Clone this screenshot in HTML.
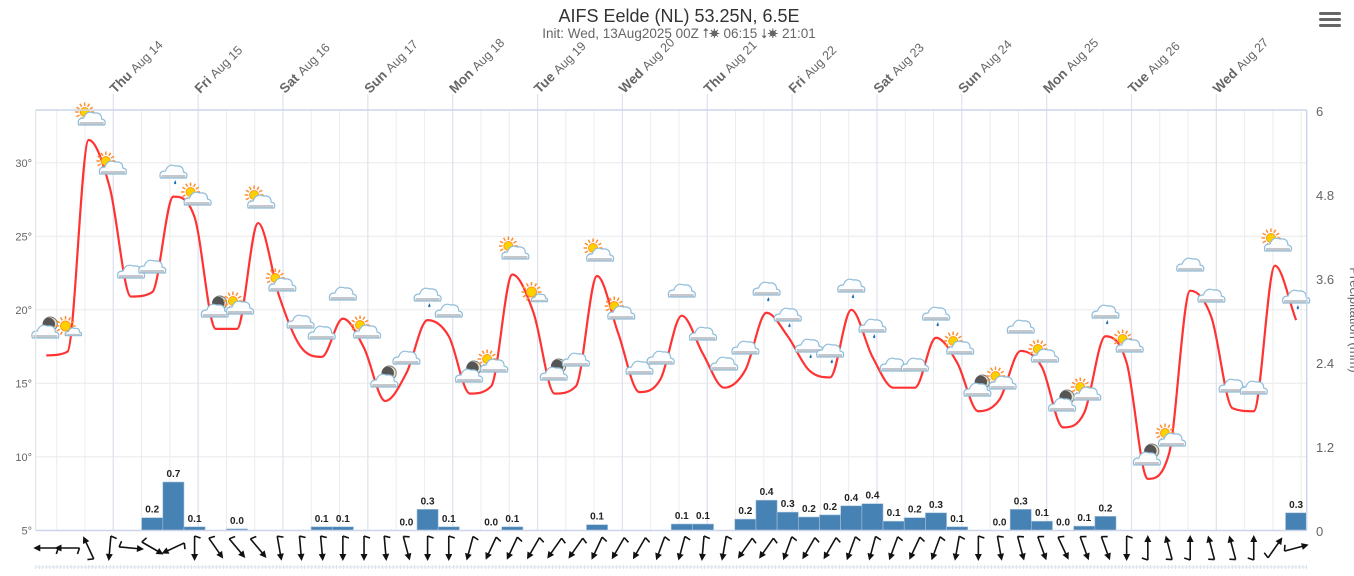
<!DOCTYPE html>
<html><head><meta charset="utf-8">
<style>
html,body{margin:0;padding:0;background:#fff;}
body{width:1354px;height:571px;overflow:hidden;font-family:"Liberation Sans",sans-serif;}
</style></head>
<body>
<svg id="chart" width="1354" height="571" xmlns="http://www.w3.org/2000/svg" font-family="Liberation Sans, sans-serif">
<text x="679" y="22" text-anchor="middle" font-size="18" fill="#333">AIFS Eelde (NL) 53.25N, 6.5E</text>
<text x="679" y="38" text-anchor="middle" font-size="13.5" fill="#666">Init: Wed, 13Aug2025 00Z ⭡☀ 06:15 ⭣☀ 21:01</text>
<g>
<rect x="1319" y="12" width="22" height="3" rx="1.5" fill="#666"/><rect x="1319" y="18" width="22" height="3" rx="1.5" fill="#666"/><rect x="1319" y="24" width="22" height="3" rx="1.5" fill="#666"/>
</g>
<g id="grid"></g><g id="bars"></g><g id="line"></g><g id="icons"></g><g id="wind"></g><g id="axes"></g>
</svg>
<script>
const temps=[16.9,17.15,31.55,28.3,20.9,21.2,27.7,26.3,18.7,18.7,25.9,20.9,17.5,16.8,19.4,17.4,13.8,15.7,19.3,18.2,14.3,14.8,22.4,19.8,14.3,14.8,22.3,18.4,14.4,15.3,19.6,17.0,14.7,15.9,19.8,18.2,15.9,15.4,20.0,16.8,14.7,14.7,18.1,16.4,13.1,13.9,17.2,16.1,12.0,13.0,18.2,16.4,8.5,10.2,21.3,19.5,13.3,13.1,23.0,19.3];
const precip=[null,null,null,null,null,0.19,0.7,0.06,null,0.03,null,null,null,0.06,0.06,null,null,0.01,0.31,0.06,null,0.01,0.06,null,null,null,0.09,null,null,null,0.1,0.1,null,0.17,0.44,0.27,0.2,0.23,0.36,0.39,0.14,0.19,0.26,0.06,null,0.01,0.31,0.14,0.01,0.07,0.21,null,null,null,null,null,null,null,null,0.26];
const icons=["mc","s","sc","sc","c","c","r","sc","mc","sc","sc","sc","c","c","c","sc","mc","c","r","c","mc","sc","sc","s","mc","c","sc","sc","c","c","c","c","c","c","r","r","r","r","r","r","c","c","r","sc","mc","sc","c","sc","mc","sc","r","sc","mc","sc","c","c","c","c","sc","r"];
const windTo=[270,270,335,185,95,120,245,180,145,140,140,170,175,175,180,180,175,165,180,180,195,205,205,210,215,215,205,210,210,200,195,185,190,215,215,200,210,210,200,195,200,205,200,190,180,170,165,160,155,160,160,180,0,345,0,345,345,0,35,75];
const tempTicks=[5,10,15,20,25,30];
const precipTicks=[0,1.2,2.4,3.6,4.8,6];
const dayNames=["Thu","Fri","Sat","Sun","Mon","Tue","Wed","Thu","Fri","Sat","Sun","Mon","Tue","Wed"];
const dayDates=["Aug 14","Aug 15","Aug 16","Aug 17","Aug 18","Aug 19","Aug 20","Aug 21","Aug 22","Aug 23","Aug 24","Aug 25","Aug 26","Aug 27"];
// layout (not data)
const iconY=[330,328,117,166,272,267,174,197,309,306,200,283,322,333,294,330,379,358,297,311,374,364,251,294,372,360,253,311,368,358,291,334,364,348,291,317,348,353,288,328,365,365,316,346,388,381,327,354,403,392,314,344,457,438,265,296,386,388,243,299];

const NS="http://www.w3.org/2000/svg";
const L=35.7,R=1306.7,T=110,B=530.5,STEP=(R-L)/60;
const xi=i=>L+STEP*(i+0.5);
const yT=t=>530.3-(t-5)*14.7;
const yP=p=>531-p*70;
const dayX=k=>113.3+k*84.85;
function el(tag,attrs,parent){const e=document.createElementNS(NS,tag);for(const k in attrs)e.setAttribute(k,attrs[k]);parent.appendChild(e);return e;}
const grid=document.getElementById('grid');
for(let x=113.3-2*28.283;x<R;x+=28.283){const g=el('line',{x1:x,x2:x,y1:T,y2:B,stroke:'#ececec','stroke-width':1},grid);

}
for(const t of tempTicks){if(t===5)continue;const g=el('line',{x1:L,x2:R,y1:yT(t),y2:yT(t),stroke:'#ececec','stroke-width':1.2},grid);

}
const axes=document.getElementById('axes');
for(let k=0;k<dayNames.length;k++){const x=dayX(k);
const dl=el('line',{x1:x,x2:x,y1:94,y2:B,stroke:'#dde2ee','stroke-width':1.2},grid);


const tx=el('text',{transform:`translate(${x+2},${94}) rotate(-45)`,'font-size':13.5,fill:'#666'},axes);


const b=el('tspan',{'font-weight':'bold'},tx);b.textContent=dayNames[k];
const n=el('tspan',{dx:4,'font-size':12.5},tx);n.textContent=dayDates[k];}
el('line',{x1:L,x2:R,y1:T,y2:T,stroke:'#ccd6eb','stroke-width':1.5},axes);
el('line',{x1:L,x2:L,y1:T,y2:B,stroke:'#e0e0e0','stroke-width':1},axes);
el('line',{x1:R,x2:R,y1:T,y2:B,stroke:'#ccd6eb','stroke-width':1.5},axes);
el('line',{x1:L,x2:R,y1:B,y2:B,stroke:'#ccd6eb','stroke-width':1.5},axes);
for(const t of tempTicks){const tx=el('text',{x:32,y:yT(t)+4,'text-anchor':'end','font-size':11,fill:'#666'},axes);tx.textContent=t+'°';

}
for(const p of precipTicks){const tx=el('text',{x:1316,y:yP(p)+5,'font-size':13,fill:'#666'},axes);tx.textContent=String(p);

}
const at=el('text',{transform:'translate(1350,320) rotate(90)','text-anchor':'middle','font-size':13,fill:'#666'},axes);at.textContent='Precipitation (mm)';


for(let x=L;x<R;x+=3.54){el('line',{x1:x,x2:x,y1:565,y2:569,stroke:'#cfd6e6','stroke-width':0.8},axes);}
el('line',{x1:L,x2:R,y1:567,y2:567,stroke:'#dfe4ef','stroke-width':1},axes);
// bars
const bars=document.getElementById('bars');
precip.forEach((p,i)=>{if(p==null)return;const x0=L+STEP*i;const y=yP(p);
const r=el('rect',{x:x0,y:y,width:STEP,height:B-y,fill:'#4682b4',stroke:'#a8c4de','stroke-width':0.6},bars);


const t=el('text',{x:x0+STEP/2,y:y-5,'text-anchor':'middle','font-size':10,'font-weight':'bold',fill:'#222'},bars);t.textContent=p.toFixed(1);

});
// monotone cubic spline
const pts=temps.map((t,i)=>[xi(i),yT(t)]);
const n=pts.length,h=STEP;
const dl=[];for(let i=0;i<n-1;i++)dl.push((pts[i+1][1]-pts[i][1])/h);
const m=new Array(n);m[0]=dl[0];m[n-1]=dl[n-2];
for(let i=1;i<n-1;i++){if(dl[i-1]*dl[i]<=0)m[i]=0;else m[i]=(dl[i-1]+dl[i])/2;}
for(let i=0;i<n-1;i++){if(dl[i]===0){m[i]=0;m[i+1]=0;continue;}const a=m[i]/dl[i],b=m[i+1]/dl[i],s=a*a+b*b;if(s>9){const t=3/Math.sqrt(s);m[i]=t*a*dl[i];m[i+1]=t*b*dl[i];}}
let d=`M${pts[0][0]},${pts[0][1]}`;
for(let i=0;i<n-1;i++){const p1=pts[i],p2=pts[i+1];
d+=` C${p1[0]+h/3},${p1[1]+m[i]*h/3} ${p2[0]-h/3},${p2[1]-m[i+1]*h/3} ${p2[0]},${p2[1]}`;}
const path=el('path',{d:d,fill:'none',stroke:'#ff3333','stroke-width':2.2},document.getElementById('line'));


// icons
const ig=document.getElementById('icons');
function cloud(g,cx,cy,s){el('path',{d:`M${cx-13*s},${cy+6*s} Q${cx-15*s},${cy-1*s} ${cx-8*s},${cy-1*s} Q${cx-5*s},${cy-9*s} ${cx+2*s},${cy-6*s} Q${cx+10*s},${cy-7*s} ${cx+10*s},${cy} Q${cx+15*s},${cy+1*s} ${cx+13*s},${cy+6*s} Z`,fill:'#fbfdff',stroke:'#8fbcd8','stroke-width':1.2},g);
el('rect',{x:cx-12*s,y:cy+3*s,width:24*s,height:2.5*s,fill:'#c4c8cc'},g);}
function sun(g,cx,cy,r){for(let a=0;a<360;a+=30){const rad=a*Math.PI/180;el('line',{x1:cx+Math.cos(rad)*(r+1.5),y1:cy+Math.sin(rad)*(r+1.5),x2:cx+Math.cos(rad)*(r+5),y2:cy+Math.sin(rad)*(r+5),stroke:'#ff8c30','stroke-width':1.5},g);}
el('circle',{cx:cx,cy:cy,r:r,fill:'#ffd000',stroke:'#ff9a20','stroke-width':1},g);}
function moon(g,cx,cy){el('circle',{cx:cx,cy:cy,r:7,fill:'#e8e2c8',stroke:'#777'},g);el('circle',{cx:cx-1.5,cy:cy,r:6.2,fill:'#555'},g);}
icons.forEach((k,i)=>{const g=el('g',{},ig);


const cx=xi(i),cy=iconY[i];
if(k==='sc'){sun(g,cx-4,cy-5,4.5);cloud(g,cx+3,cy+2,1);}
else if(k==='s'){sun(g,cx-2,cy-2,5);cloud(g,cx+6,cy+4,0.6);}
else if(k==='mc'){moon(g,cx+4,cy-6);cloud(g,cx-1,cy+2,1);}
else if(k==='c'){cloud(g,cx,cy,1);}
else if(k==='r'){cloud(g,cx,cy-2,1);el('path',{d:`M${cx+2},${cy+6} l-1.5,3 a1.2,1.2 0 1 0 2.4,0 Z`,fill:'#1f6fb0'},g);}
});
// wind
const wg=document.getElementById('wind');
windTo.forEach((a,i)=>{const g=el('g',{transform:`translate(${xi(i)},548) rotate(${a-180})`},wg);


el('line',{x1:0,y1:-12,x2:0,y2:10,stroke:'#111','stroke-width':1.6},g);
el('path',{d:'M0,13 L-3.5,6 L3.5,6 Z',fill:'#111'},g);
el('line',{x1:0,y1:-12,x2:6,y2:-10,stroke:'#111','stroke-width':1.6},g);});
</script>
</body></html>
